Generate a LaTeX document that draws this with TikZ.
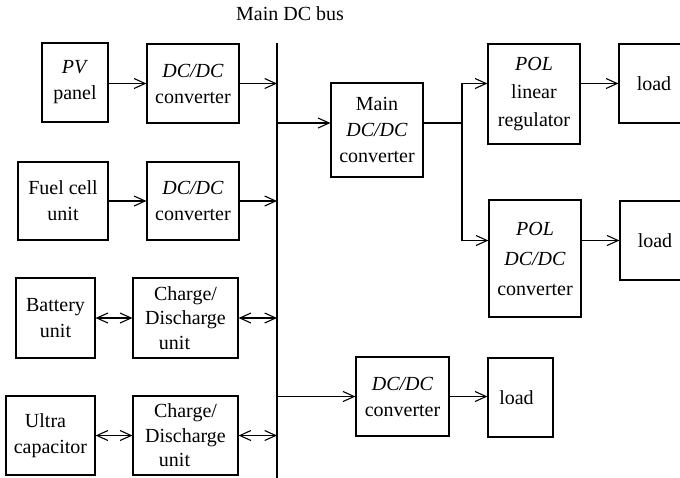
\documentclass[tikz,border=0pt]{standalone}
\usepackage{fontspec}
\setmainfont{Liberation Serif}
\usepackage{tikz}
\usetikzlibrary{arrows.meta, positioning, calc}

\tikzset{
    blockbox/.style={draw, line width=1.2pt, align=center, inner sep=1pt,
        font=\fontsize{20}{26}\selectfont},
    flow/.style={line width=1.1pt, -{Straight Barb[length=11pt, width=10pt, line width=1.1pt]}},
    twoway/.style={line width=1.1pt, {Straight Barb[length=11pt, width=10pt, line width=1.1pt]}-{Straight Barb[length=11pt, width=10pt, line width=1.1pt]}}
}

\begin{document}
\begin{tikzpicture}[x=1pt, y=-1pt]
        \useasboundingbox (0,0) rectangle (680,477);

        % Bus
        \coordinate (busTop) at (277,43);
        \coordinate (busBot) at (277,482);
        \draw[line width=2.8pt] (busTop) -- (busBot);
        \node[font=\fontsize{20}{26}\selectfont] (buslabel) at (290,14) {Main DC bus};

        % Sources
        \node[blockbox, minimum width=66pt, minimum height=79pt] (pv) at (75,82.5) {\textit{PV}\\panel};
        \node[blockbox, minimum width=92pt, minimum height=79pt] (dcA) at (193,83.5) {\textit{DC/DC}\\converter};
        \node[blockbox, minimum width=90pt, minimum height=78pt] (fuel) at (63,201) {Fuel cell\\unit};
        \node[blockbox, minimum width=92pt, minimum height=78pt] (dcB) at (193,201) {\textit{DC/DC}\\converter};
        \node[blockbox, minimum width=79pt, minimum height=80pt] (batt) at (55.5,318) {Battery\\unit};
        \node[blockbox, minimum width=105pt, minimum height=80pt, font=\fontsize{20}{24.5}\selectfont] (chgA) at (185.5,318) {Charge/\\Discharge\\unit\hspace*{22pt}};
        \node[blockbox, minimum width=89pt, minimum height=79pt] (ucap) at (50.5,435.5) {Ultra\hspace*{10pt}\\capacitor};
        \node[blockbox, minimum width=105pt, minimum height=79pt, font=\fontsize{20}{24.5}\selectfont] (chgB) at (185.5,435.5) {Charge/\\Discharge\\unit\hspace*{22pt}};

        % Loads side
        \node[blockbox, minimum width=92pt, minimum height=94pt] (maindc) at (377,130) {Main\\\textit{DC/DC}\\converter};
        \node[blockbox, minimum width=92pt, minimum height=100pt, font=\fontsize{20}{28}\selectfont] (pollin) at (534,94) {\textit{POL}\\linear\\regulator};
        \node[blockbox, minimum width=70pt, minimum height=79pt] (loadA) at (654,83.5) {load};
        \node[blockbox, minimum width=92pt, minimum height=117pt, font=\fontsize{20}{30}\selectfont] (poldc) at (535,258.5) {\textit{POL}\\\textit{DC/DC}\\converter};
        \node[blockbox, minimum width=70pt, minimum height=79pt] (loadB) at (655,240.5) {load};
        \node[blockbox, minimum width=93pt, minimum height=79pt] (dcC) at (402.5,396.5) {\textit{DC/DC}\\converter};
        \node[blockbox, minimum width=65pt, minimum height=79pt] (loadC) at (520.5,397.5) {load\hspace*{8pt}};

        % Connections to the bus
        \draw[flow] (pv.east |- dcA) -- (dcA.west);
        \draw[flow] (dcA.east) -- (dcA.east -| busTop);
        \draw[flow] (fuel.east |- dcB) -- (dcB.west);
        \draw[flow] (dcB.east) -- (dcB.east -| busTop);
        \draw[twoway] (batt.east |- chgA) -- (chgA.west);
        \draw[twoway] (chgA.east) -- (chgA.east -| busTop);
        \draw[twoway] (ucap.east |- chgB) -- (chgB.west);
        \draw[twoway] (chgB.east) -- (chgB.east -| busTop);

        % From the bus
        \coordinate (tapMain) at (277,123);
        \coordinate (tapLow) at (277,396.5);
        \coordinate (split) at (462,123);
        \draw[flow] (tapMain) -- (tapMain -| maindc.west);
        \draw[flow] (tapLow) -- (dcC.west);
        \draw[line width=1.1pt] (split -| maindc.east) -- (split);
        \draw[flow] (split) |- (pollin.west |- loadA);
        \draw[flow] (split) |- (poldc.west |- loadB);
        \draw[flow] (pollin.east |- loadA) -- (loadA.west);
        \draw[flow] (poldc.east |- loadB) -- (loadB.west);
        \draw[flow] (dcC.east) -- (dcC.east -| loadC.west);
    \end{tikzpicture}
\end{document}
